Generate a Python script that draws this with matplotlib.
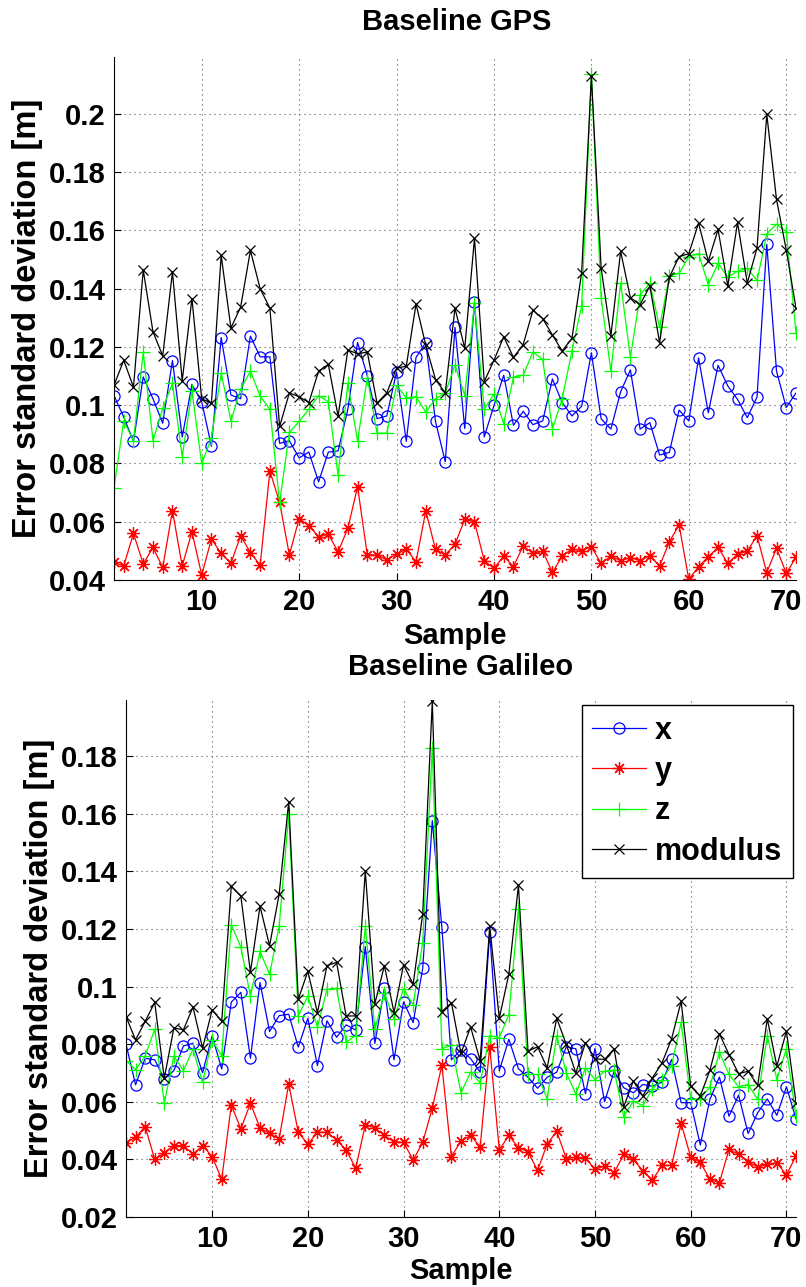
import matplotlib
matplotlib.use("Agg")
import matplotlib.pyplot as plt
import numpy as np

plt.rcParams['font.family'] = ['Liberation Sans', 'DejaVu Sans']
plt.rcParams['font.weight'] = 'bold'

samples = list(range(1, 72))

# ---- Baseline GPS ----
gps_x = [0.1033, 0.0959, 0.0876, 0.1097, 0.1022, 0.0938, 0.1153, 0.0891, 0.1071, 0.1012,
         0.0859, 0.1232, 0.1035, 0.1022, 0.1237, 0.1166, 0.1166, 0.0869, 0.0878, 0.0819,
         0.0839, 0.0737, 0.0839, 0.0843, 0.0986, 0.1215, 0.1101, 0.0954, 0.0963, 0.1114,
         0.0876, 0.1164, 0.1215, 0.0944, 0.0806, 0.1267, 0.0920, 0.1354, 0.0891, 0.0999,
         0.1103, 0.0931, 0.0979, 0.0933, 0.0946, 0.1090, 0.1009, 0.0963, 0.0996, 0.1180,
         0.0953, 0.0918, 0.1046, 0.1121, 0.0918, 0.0940, 0.0829, 0.0838, 0.0983, 0.0946,
         0.1162, 0.0974, 0.1137, 0.1066, 0.1020, 0.0957, 0.1028, 0.1552, 0.1117, 0.0992,
         0.1042]
gps_y = [0.0461, 0.0448, 0.0560, 0.0455, 0.0512, 0.0443, 0.0638, 0.0448, 0.0566, 0.0417,
         0.0541, 0.0491, 0.0457, 0.0552, 0.0494, 0.0451, 0.0774, 0.0666, 0.0486, 0.0611,
         0.0586, 0.0549, 0.0557, 0.0497, 0.0577, 0.0720, 0.0486, 0.0486, 0.0469, 0.0489,
         0.0506, 0.0463, 0.0637, 0.0505, 0.0486, 0.0523, 0.0608, 0.0600, 0.0466, 0.0440,
         0.0482, 0.0446, 0.0517, 0.0491, 0.0499, 0.0426, 0.0482, 0.0506, 0.0501, 0.0514,
         0.0457, 0.0482, 0.0466, 0.0477, 0.0466, 0.0483, 0.0448, 0.0531, 0.0589, 0.0402,
         0.0446, 0.0480, 0.0512, 0.0457, 0.0489, 0.0499, 0.0552, 0.0425, 0.0509, 0.0423,
         0.0478]
gps_z = [0.0717, 0.0946, 0.0878, 0.1182, 0.0878, 0.0990, 0.1075, 0.0823, 0.1049, 0.0800,
         0.0887, 0.1111, 0.0946, 0.1055, 0.1117, 0.1031, 0.0986, 0.0666, 0.0907, 0.0944,
         0.0986, 0.1033, 0.1012, 0.0760, 0.1075, 0.0878, 0.1094, 0.0904, 0.0904, 0.1068,
         0.1025, 0.1029, 0.0976, 0.1022, 0.1042, 0.1138, 0.1033, 0.1350, 0.0986, 0.1038,
         0.0937, 0.1097, 0.1103, 0.1182, 0.1157, 0.0918, 0.1022, 0.1186, 0.1341, 0.2135,
         0.1367, 0.1117, 0.1419, 0.1164, 0.1378, 0.1419, 0.1267, 0.1444, 0.1452, 0.1510,
         0.1520, 0.1413, 0.1487, 0.1439, 0.1460, 0.1470, 0.1428, 0.1588, 0.1621, 0.1596,
         0.1248]
gps_mod = [0.1068, 0.1154, 0.1062, 0.1464, 0.1252, 0.1169, 0.1457, 0.1084, 0.1366, 0.1022,
           0.1007, 0.1514, 0.1265, 0.1337, 0.1531, 0.1400, 0.1333, 0.0927, 0.1042, 0.1029,
           0.1009, 0.1117, 0.1140, 0.0963, 0.1189, 0.1177, 0.1182, 0.1007, 0.1042, 0.1127,
           0.1134, 0.1347, 0.1206, 0.1088, 0.1042, 0.1333, 0.1195, 0.1573, 0.1081, 0.1154,
           0.1235, 0.1164, 0.1208, 0.1326, 0.1297, 0.1241, 0.1186, 0.1229, 0.1455, 0.2129,
           0.1470, 0.1238, 0.1528, 0.1369, 0.1345, 0.1409, 0.1215, 0.1439, 0.1510, 0.1520,
           0.1625, 0.1494, 0.1603, 0.1409, 0.1627, 0.1419, 0.1540, 0.1998, 0.1706, 0.1533,
           0.1333]

# ---- Baseline Galileo ----
gal_x = [0.0800, 0.0659, 0.0751, 0.0746, 0.0679, 0.0708, 0.0794, 0.0803, 0.0701, 0.0829,
         0.0714, 0.0946, 0.0980, 0.0751, 0.1014, 0.0844, 0.0899, 0.0904, 0.0790, 0.0890,
         0.0726, 0.0881, 0.0824, 0.0867, 0.0849, 0.1139, 0.0803, 0.0994, 0.0746, 0.0947,
         0.0875, 0.1063, 0.1576, 0.1206, 0.0746, 0.0781, 0.0750, 0.0703, 0.1188, 0.0708,
         0.0817, 0.0715, 0.0685, 0.0647, 0.0685, 0.0703, 0.0791, 0.0784, 0.0628, 0.0785,
         0.0600, 0.0706, 0.0649, 0.0631, 0.0660, 0.0654, 0.0668, 0.0747, 0.0597, 0.0597,
         0.0450, 0.0608, 0.0686, 0.0550, 0.0623, 0.0490, 0.0562, 0.0610, 0.0553, 0.0652,
         0.0541]
gal_y = [0.0458, 0.0477, 0.0514, 0.0400, 0.0423, 0.0448, 0.0448, 0.0418, 0.0448, 0.0410,
         0.0331, 0.0589, 0.0506, 0.0595, 0.0509, 0.0490, 0.0471, 0.0662, 0.0494, 0.0453,
         0.0494, 0.0494, 0.0467, 0.0433, 0.0369, 0.0520, 0.0509, 0.0483, 0.0461, 0.0459,
         0.0398, 0.0459, 0.0578, 0.0727, 0.0410, 0.0464, 0.0483, 0.0444, 0.0791, 0.0433,
         0.0483, 0.0441, 0.0426, 0.0362, 0.0453, 0.0497, 0.0403, 0.0407, 0.0406, 0.0365,
         0.0377, 0.0354, 0.0417, 0.0400, 0.0360, 0.0328, 0.0379, 0.0379, 0.0525, 0.0408,
         0.0390, 0.0331, 0.0319, 0.0435, 0.0417, 0.0392, 0.0373, 0.0383, 0.0388, 0.0346,
         0.0412]
gal_z = [0.0743, 0.0711, 0.0759, 0.0852, 0.0595, 0.0759, 0.0708, 0.0783, 0.0667, 0.0815,
         0.0759, 0.1215, 0.1137, 0.0967, 0.1122, 0.1043, 0.1210, 0.1599, 0.0898, 0.0967,
         0.0860, 0.0990, 0.0994, 0.0807, 0.0830, 0.1210, 0.0852, 0.0977, 0.0886, 0.0993,
         0.0936, 0.1153, 0.1828, 0.0784, 0.0796, 0.0631, 0.0703, 0.0666, 0.0830, 0.0822,
         0.0903, 0.1268, 0.0695, 0.0695, 0.0609, 0.0830, 0.0700, 0.0627, 0.0718, 0.0677,
         0.0706, 0.0710, 0.0548, 0.0602, 0.0587, 0.0645, 0.0677, 0.0726, 0.0876, 0.0608,
         0.0610, 0.0652, 0.0772, 0.0695, 0.0652, 0.0660, 0.0608, 0.0830, 0.0677, 0.0784,
         0.0550]
gal_mod = [0.0896, 0.0815, 0.0879, 0.0945, 0.0682, 0.0856, 0.0850, 0.0929, 0.0786, 0.0919,
           0.0879, 0.1348, 0.1314, 0.1050, 0.1279, 0.1142, 0.1320, 0.1642, 0.0956, 0.1053,
           0.0909, 0.1073, 0.1084, 0.0898, 0.0898, 0.1401, 0.0941, 0.1073, 0.0910, 0.1076,
           0.1008, 0.1252, 0.1990, 0.0913, 0.0944, 0.0768, 0.0860, 0.0743, 0.1210, 0.0890,
           0.1043, 0.1352, 0.0776, 0.0791, 0.0718, 0.0890, 0.0799, 0.0700, 0.0805, 0.0749,
           0.0747, 0.0784, 0.0583, 0.0672, 0.0620, 0.0683, 0.0735, 0.0818, 0.0949, 0.0654,
           0.0620, 0.0709, 0.0836, 0.0764, 0.0698, 0.0706, 0.0657, 0.0888, 0.0724, 0.0845,
           0.0597]

series_labels = ['x', 'y', 'z', 'modulus']
xticks = [10, 20, 30, 40, 50, 60, 70]
gps_yticks = [0.04, 0.06, 0.08, 0.1, 0.12, 0.14, 0.16, 0.18, 0.2]
gal_yticks = [0.02, 0.04, 0.06, 0.08, 0.1, 0.12, 0.14, 0.16, 0.18]
tick_labels_gps = ['0.04', '0.06', '0.08', '0.1', '0.12', '0.14', '0.16', '0.18', '0.2']
tick_labels_gal = ['0.02', '0.04', '0.06', '0.08', '0.1', '0.12', '0.14', '0.16', '0.18']

W, H = 806, 1287
fig = plt.figure(figsize=(W / 100, H / 100), dpi=100)

def px_axes(l, r, t, b):
    return fig.add_axes([l / W, 1 - b / H, (r - l) / W, (b - t) / H])

ax1 = px_axes(114, 796, 57, 580)
ax2 = px_axes(126, 796, 700, 1217)

styles = [
    dict(color=(0, 0, 1), marker='o', ms=8, mfc='none', mew=0.9),
    dict(color=(1, 0, 0), marker=(8, 2, 0), ms=9, mew=0.9),
    dict(color=(0, 1, 0), marker='+', ms=10, mew=0.9),
    dict(color=(0, 0, 0), marker='x', ms=7, mew=0.9),
]

FS = 21

def draw(ax, data, ylim, yticks, ylabels):
    lines = []
    for vals, st, lab in zip(data, styles, series_labels):
        ln, = ax.plot(samples, vals, lw=0.9, label=lab, **st)
        lines.append(ln)
    ax.set_xlim(1, 71)
    ax.set_ylim(*ylim)
    ax.set_xticks(xticks)
    ax.set_xticklabels([str(t) for t in xticks], fontsize=FS, fontweight='bold')
    ax.set_yticks(yticks)
    ax.set_yticklabels(ylabels, fontsize=FS, fontweight='bold')
    ax.tick_params(direction='in', length=5, width=0.8, pad=6)
    ax.spines['top'].set_visible(False)
    ax.spines['right'].set_visible(False)
    ax.grid(True, color='#555555', lw=0.8, linestyle=(0, (1, 3.5)))
    ax.set_axisbelow(True)
    return lines

draw(ax1, [gps_x, gps_y, gps_z, gps_mod], (0.04, 0.2195), gps_yticks, tick_labels_gps)
draw(ax2, [gal_x, gal_y, gal_z, gal_mod], (0.02, 0.1995), gal_yticks, tick_labels_gal)

def ftext(x, y, s, size=FS, **kw):
    fig.text(x / W, 1 - y / H, s, ha='center', va='center', fontsize=size, fontweight='bold', **kw)

ftext(457, 22, 'Baseline GPS')
ftext(455, 636, 'Sample')
ftext(461, 667, 'Baseline Galileo')
ftext(461, 1271, 'Sample')
ftext(28, 318, 'Error standard deviation [m]', size=23.5, rotation=90)
ftext(40, 958, 'Error standard deviation [m]', size=23.5, rotation=90)

leg = ax2.legend(loc='upper right', bbox_to_anchor=((793 - 126) / 670, (1217 - 705) / 517),
                 borderaxespad=0, fancybox=False, framealpha=1, edgecolor='black',
                 prop=dict(size=22, weight='bold'), handlelength=1.75, handletextpad=0.3,
                 labelspacing=0.34, borderpad=0.35)
leg.get_frame().set_linewidth(1.0)

fig.savefig('out.png', dpi=100)
